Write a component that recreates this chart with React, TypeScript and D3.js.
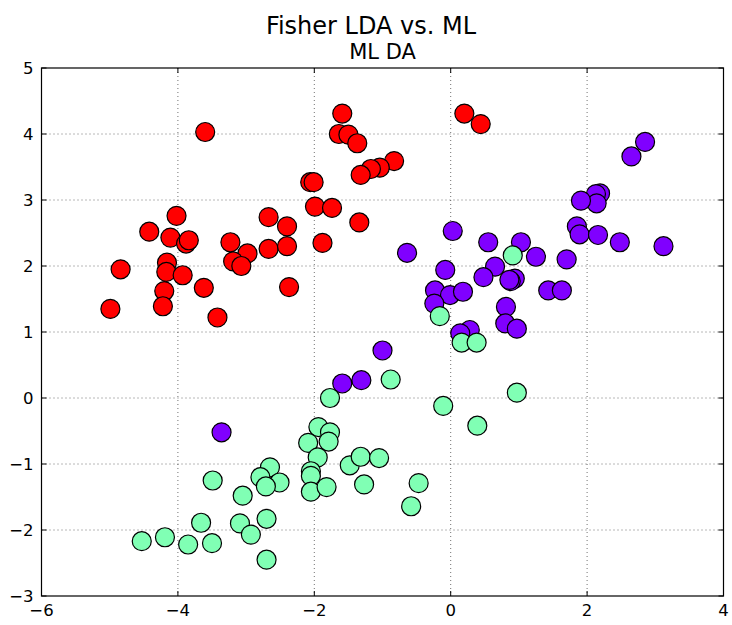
import * as d3 from "d3"

// class 0: red, class 1: purple, class 2: green
const redX = [-1.59, -1.64, -1.5, -1.37, -3.6, -0.83, -1.04, -1.17, -1.32, -2.06, -2.01, -1.99, -1.74, -1.34, -4.02, -4.42, -4.11, -3.88, -3.84, -2.67, -2.4, -3.23, -2.98, -2.67, -2.4, -1.88, -3.19, -3.07, -4.16, -4.17, -3.93, -4.84, -4.2, -4.22, -3.62, -2.37, -4.99, -3.42, 0.2, 0.44]
const redY = [4.31, 4.0, 3.99, 3.86, 4.03, 3.59, 3.49, 3.47, 3.38, 3.27, 3.27, 2.9, 2.88, 2.66, 2.76, 2.52, 2.43, 2.34, 2.39, 2.74, 2.6, 2.36, 2.19, 2.26, 2.3, 2.35, 2.07, 2.0, 2.05, 1.91, 1.86, 1.95, 1.62, 1.39, 1.67, 1.68, 1.35, 1.22, 4.31, 4.15]

const purpleX = [2.85, 2.65, 2.19, 2.13, 2.14, 1.91, 1.85, 1.89, 2.16, 2.48, 3.12, 0.03, -0.64, 0.55, 1.03, 1.25, 1.7, 0.65, 0.48, -0.08, 0.94, 0.88, 0.86, -0.23, -0.01, 0.18, -0.24, 1.43, 1.63, 0.81, 0.8, 0.97, 0.28, 0.14, -1.0, -1.31, -1.59, -3.36]
const purpleY = [3.88, 3.66, 3.1, 3.09, 2.95, 2.99, 2.6, 2.48, 2.47, 2.36, 2.3, 2.53, 2.2, 2.36, 2.36, 2.14, 2.1, 1.99, 1.83, 1.94, 1.81, 1.77, 1.79, 1.63, 1.56, 1.61, 1.43, 1.63, 1.63, 1.38, 1.13, 1.05, 1.03, 0.98, 0.72, 0.27, 0.22, -0.52]

const greenX = [0.16, 0.38, -0.16, 0.91, -0.88, -1.77, -1.94, -1.77, -1.79, -2.09, -1.95, -1.48, -1.32, -1.05, -2.05, -2.05, -2.05, -1.82, -1.27, -2.65, -2.79, -2.51, -2.71, -3.49, -3.05, -3.66, -3.09, -2.7, -2.93, -4.19, -4.53, -3.85, -3.5, -2.7, -0.11, 0.97, 0.39, -0.47, -0.58]
const greenY = [0.84, 0.84, 1.24, 2.16, 0.28, 0.0, -0.44, -0.52, -0.66, -0.68, -0.9, -1.02, -0.89, -0.91, -1.11, -1.18, -1.42, -1.35, -1.31, -1.05, -1.2, -1.28, -1.34, -1.25, -1.48, -1.89, -1.9, -1.83, -2.07, -2.11, -2.17, -2.22, -2.2, -2.45, -0.12, 0.08, -0.42, -1.29, -1.64]

const xTicks = [-6, -4, -2, 0, 2, 4]
const yTicks = [-3, -2, -1, 0, 1, 2, 3, 4, 5]

const groups = [
  { xs: redX, ys: redY, color: "#ff0000" },
  { xs: purpleX, ys: purpleY, color: "#8000ff" },
  { xs: greenX, ys: greenY, color: "#80ffb4" },
]

const W = 732
const H = 625
const M = { left: 41.5, right: 723.5, top: 68, bottom: 596 }
const FONT = "DejaVu Sans, sans-serif"

export default function App() {
  const x = d3.scaleLinear().domain([-6, 4]).range([M.left, M.right])
  const y = d3.scaleLinear().domain([-3, 5]).range([M.bottom, M.top])
  const fmt = (v: number) => (v < 0 ? `\u2212${Math.abs(v)}` : String(v))

  return (
    <svg
      width={W}
      height={H}
      style={{ position: "absolute", left: 0, top: 0, background: "#fff" }}
      fontFamily={FONT}
    >
      <text x={371} y={34} textAnchor="middle" fontSize={24} fill="#000">
        Fisher LDA vs. ML
      </text>
      <text x={(M.left + M.right) / 2} y={58.5} textAnchor="middle" fontSize={21} fill="#000">
        ML DA
      </text>

      {/* grid */}
      <g stroke="#000" strokeOpacity={0.7} strokeWidth={0.8} strokeDasharray="1,3">
        {xTicks.slice(1, -1).map((t) => (
          <line key={`gx${t}`} x1={x(t)} x2={x(t)} y1={M.top} y2={M.bottom} />
        ))}
        {yTicks.slice(1, -1).map((t) => (
          <line key={`gy${t}`} x1={M.left} x2={M.right} y1={y(t)} y2={y(t)} />
        ))}
      </g>

      {/* ticks (inside, both sides) */}
      <g stroke="#000" strokeWidth={1}>
        {xTicks.map((t) => (
          <g key={`tx${t}`}>
            <line x1={x(t)} x2={x(t)} y1={M.bottom} y2={M.bottom - 5} />
            <line x1={x(t)} x2={x(t)} y1={M.top} y2={M.top + 5} />
          </g>
        ))}
        {yTicks.map((t) => (
          <g key={`ty${t}`}>
            <line x1={M.left} x2={M.left + 5} y1={y(t)} y2={y(t)} />
            <line x1={M.right} x2={M.right - 5} y1={y(t)} y2={y(t)} />
          </g>
        ))}
      </g>

      {/* points */}
      <g stroke="#000" strokeWidth={1.2}>
        {groups.map((g, gi) =>
          g.xs.map((xv, i) => (
            <circle key={`${gi}-${i}`} cx={x(xv)} cy={y(g.ys[i])} r={9.5} fill={g.color} />
          ))
        )}
      </g>

      <rect
        x={M.left}
        y={M.top}
        width={M.right - M.left}
        height={M.bottom - M.top}
        fill="none"
        stroke="#000"
        strokeWidth={1.2}
      />

      <g fontSize={16.5} fill="#000">
        {xTicks.map((t) => (
          <text key={`lx${t}`} x={x(t)} y={M.bottom + 20} textAnchor="middle">
            {fmt(t)}
          </text>
        ))}
        {yTicks.map((t) => (
          <text key={`ly${t}`} x={M.left - 8} y={y(t) + 6} textAnchor="end">
            {fmt(t)}
          </text>
        ))}
      </g>
    </svg>
  )
}
